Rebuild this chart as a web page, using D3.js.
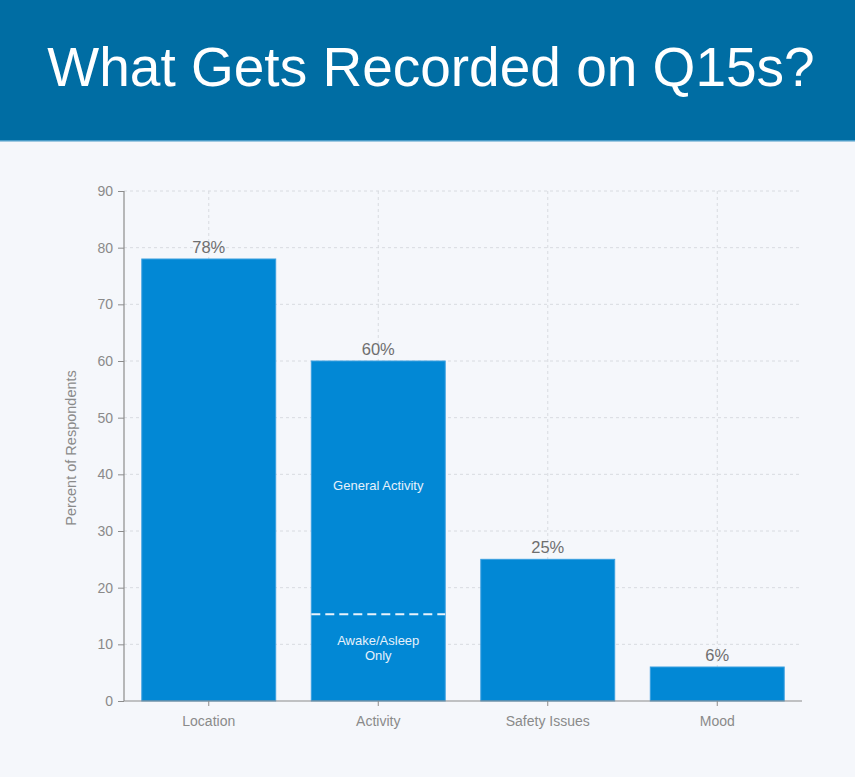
<!DOCTYPE html>
<html>
<head>
<meta charset="utf-8">
<script src="https://cdn.jsdelivr.net/npm/d3@7"></script>
<style>
  html, body { margin: 0; padding: 0; background: #f5f7fb; }
  svg { display: block; font-family: "Liberation Sans", Arial, sans-serif; }
</style>
</head>
<body>
<svg id="chart" width="855" height="777"></svg>
<script>
const title = "What Gets Recorded on Q15s?";
const categories = ["Location", "Activity", "Safety Issues", "Mood"];
const values = [78, 60, 25, 6];
const valueLabels = ["78%", "60%", "25%", "6%"];
const yTicks = [0, 10, 20, 30, 40, 50, 60, 70, 80, 90];
const yLabel = "Percent of Respondents";
// Activity bar split
const splitCategory = "Activity";
const splitValue = 15.3;
const upperLabel = ["General Activity"];
const upperLabelValue = 38;
const lowerLabel = ["Awake/Asleep", "Only"];
const lowerLabelValue = 9.6;

const svg = d3.select("#chart");
const W = 855, H = 777;

svg.append("rect").attr("width", W).attr("height", H).attr("fill", "#f5f7fb");
svg.append("rect").attr("x", 0).attr("y", 0).attr("width", W).attr("height", 140).attr("fill", "#006da3");
svg.append("rect").attr("x", 0).attr("y", 140).attr("width", W).attr("height", 1.5).attr("fill", "#4a9cc8");

svg.append("text")
  .attr("x", 431).attr("y", 86)
  .attr("text-anchor", "middle")
  .attr("fill", "#ffffff")
  .attr("font-size", 55)
  .text(title);

const x = d3.scaleBand().domain(categories).range([124, 802]).paddingInner(0.21).paddingOuter(0.105);
const y = d3.scaleLinear().domain([0, 90]).range([701, 191]);

const g = svg.append("g");

// grid
g.append("g").selectAll("line.h").data(yTicks.filter(d => d > 0)).join("line")
  .attr("x1", 124).attr("x2", 802)
  .attr("y1", d => y(d)).attr("y2", d => y(d))
  .attr("stroke", "#d8dbe0").attr("stroke-dasharray", "3,3").attr("stroke-width", 1);
g.append("g").selectAll("line.v").data(categories).join("line")
  .attr("x1", d => x(d) + x.bandwidth() / 2).attr("x2", d => x(d) + x.bandwidth() / 2)
  .attr("y1", y(90)).attr("y2", y(0))
  .attr("stroke", "#d8dbe0").attr("stroke-dasharray", "3,3").attr("stroke-width", 1);

// bars
g.append("g").selectAll("rect").data(categories).join("rect")
  .attr("x", d => x(d))
  .attr("y", (d, i) => y(values[i]))
  .attr("width", x.bandwidth())
  .attr("height", (d, i) => y(0) - y(values[i]))
  .attr("fill", "#0288d5")
  .attr("stroke", "#3a9fe0").attr("stroke-width", 1);

// value labels
g.append("g").selectAll("text").data(categories).join("text")
  .attr("x", d => x(d) + x.bandwidth() / 2)
  .attr("y", (d, i) => y(values[i]) - 6)
  .attr("text-anchor", "middle")
  .attr("fill", "#6e6e6e")
  .attr("font-size", 16.5)
  .text((d, i) => valueLabels[i]);

// split line
const sx = x(splitCategory);
g.append("line")
  .attr("x1", sx).attr("x2", sx + x.bandwidth())
  .attr("y1", y(splitValue)).attr("y2", y(splitValue))
  .attr("stroke", "#e8f2fb").attr("stroke-width", 2).attr("stroke-dasharray", "9,5");

const cx = sx + x.bandwidth() / 2;
g.append("text").attr("x", cx).attr("y", y(upperLabelValue) + 4)
  .attr("text-anchor", "middle").attr("fill", "#e6f1fb").attr("font-size", 13)
  .text(upperLabel[0]);
const lt = g.append("text").attr("x", cx).attr("y", y(lowerLabelValue) - 2)
  .attr("text-anchor", "middle").attr("fill", "#e6f1fb").attr("font-size", 13);
lowerLabel.forEach((s, i) => lt.append("tspan").attr("x", cx).attr("dy", i === 0 ? 0 : 15).text(s));

// axes
const yAxis = g.append("g").attr("transform", "translate(124,0)")
  .call(d3.axisLeft(y).tickValues(yTicks).tickSize(6).tickPadding(5));
const xAxis = g.append("g").attr("transform", "translate(0,701)")
  .call(d3.axisBottom(x).tickSize(5).tickPadding(10).tickSizeOuter(0));

[yAxis, xAxis].forEach(a => {
  a.select(".domain").attr("stroke", "#8c8c8c").attr("stroke-width", 1.2);
  a.selectAll(".tick line").attr("stroke", "#8c8c8c");
  a.selectAll(".tick text").attr("fill", "#8a8a8a").attr("font-size", 14)
    .attr("font-family", "Liberation Sans, Arial, sans-serif");
});
yAxis.select(".domain").attr("d", "M0," + y(0) + "V" + y(90));
xAxis.select(".domain").attr("d", "M124,0H802");

svg.append("text")
  .attr("transform", "translate(76,448) rotate(-90)")
  .attr("text-anchor", "middle")
  .attr("fill", "#8a8a8a")
  .attr("font-size", 14.5)
  .text(yLabel);
</script>
</body>
</html>
